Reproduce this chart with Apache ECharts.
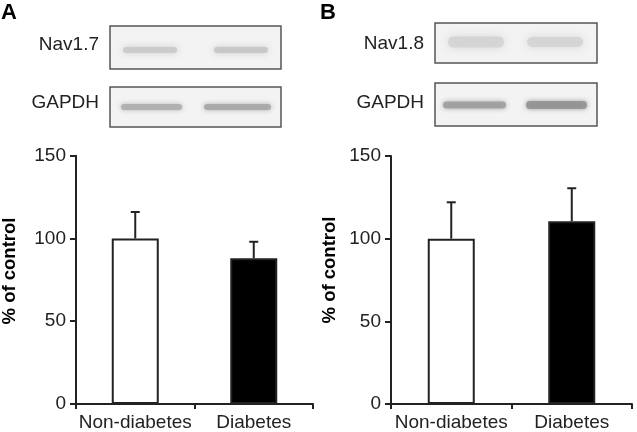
<!DOCTYPE html>
<html>
<head>
<meta charset="utf-8">
<script src="https://cdn.jsdelivr.net/npm/echarts@6/dist/echarts.min.js"></script>
<style>
html,body{margin:0;padding:0;background:#fff;}
#chart{width:637px;height:432px;}
</style>
</head>
<body>
<div id="chart"></div>
<script>
// ---- data ----
var categories = ['Non-diabetes', 'Diabetes'];
var panelAMeans = [100, 88];
var panelAErrors = [16, 10];
var panelBMeans = [100, 110.5];
var panelBErrors = [22, 20];
var yTicks = [0, 50, 100, 150];
var yTitle = '% of control';
var panelLetters = ['A', 'B'];
var blotLabelsA = ['Nav1.7', 'GAPDH'];
var blotLabelsB = ['Nav1.8', 'GAPDH'];
var barColors = ['#ffffff', '#000000'];

var FONT = "'Liberation Sans', Arial, Helvetica, sans-serif";
var INK = '#222';
var FS = 19;

var chart = echarts.init(document.getElementById('chart'), null, {renderer: 'canvas'});

function barData(means) {
  return means.map(function (v, i) {
    return {value: v, itemStyle: {color: barColors[i], borderColor: INK, borderWidth: 2}};
  });
}
function errData(means, errs) {
  return means.map(function (v, i) { return [i, v, v + errs[i]]; });
}
function errRender(params, api) {
  var base = api.coord([api.value(0), api.value(1)]);
  var top = api.coord([api.value(0), api.value(2)]);
  var hw = 4.5;
  return {
    type: 'group',
    children: [
      {type: 'line', shape: {x1: base[0], y1: base[1], x2: top[0], y2: top[1]}, style: {stroke: INK, lineWidth: 2}},
      {type: 'line', shape: {x1: top[0] - hw, y1: top[1], x2: top[0] + hw, y2: top[1]}, style: {stroke: INK, lineWidth: 2}}
    ]
  };
}

function xAxis(gi) {
  return {
    type: 'category', gridIndex: gi, data: categories,
    axisLine: {lineStyle: {color: INK, width: 2}},
    axisTick: {show: true, length: 5, inside: false, alignWithLabel: false, lineStyle: {color: INK, width: 2}},
    axisLabel: {color: INK, fontSize: FS, fontFamily: FONT, margin: 9, interval: 0, hideOverlap: false}
  };
}
function yAxis(gi) {
  return {
    type: 'value', gridIndex: gi, min: yTicks[0], max: yTicks[yTicks.length - 1], interval: 50,
    axisLine: {show: true, lineStyle: {color: INK, width: 2}},
    axisTick: {show: true, length: 6, lineStyle: {color: INK, width: 2}},
    splitLine: {show: false},
    axisLabel: {color: INK, fontSize: FS, fontFamily: FONT, margin: 10}
  };
}

// blot decoration helpers
function box(x, y, w, h) {
  return {type: 'rect', shape: {x: x, y: y, width: w, height: h},
    style: {fill: '#f3f3f3', stroke: '#555', lineWidth: 1.5}, z: 1};
}
function band(x, y, w, h, color, blur) {
  return {type: 'rect', shape: {x: x, y: y - h / 2, width: w, height: h, r: h / 2},
    style: {fill: color, shadowBlur: blur, shadowColor: color, opacity: 0.85}, z: 2};
}
function label(text, xr, yc) {
  return {type: 'text', x: xr, y: yc, z: 3,
    style: {text: text, font: FS + 'px ' + FONT, fill: INK, textAlign: 'right', textVerticalAlign: 'middle'}};
}
function ytitle(xc, yc) {
  return {type: 'text', x: xc, y: yc, rotation: Math.PI / 2, z: 3,
    style: {text: yTitle, font: 'bold 18.5px ' + FONT, fill: '#000', textAlign: 'center', textVerticalAlign: 'middle'}};
}
function letter(text, x, y) {
  return {type: 'text', x: x, y: y, z: 3,
    style: {text: text, font: 'bold 22px ' + FONT, fill: '#000', textAlign: 'left', textVerticalAlign: 'top'}};
}

var graphics = [
  letter(panelLetters[0], 1, 2),
  letter(panelLetters[1], 320, 2),
  // panel A blots
  box(110, 26, 171, 43),
  band(123, 50, 54, 6, '#c8c8c8', 6),
  band(214, 50, 54, 6, '#c4c4c4', 6),
  box(110, 87, 171, 40),
  band(121, 107, 61, 6, '#ababab', 5),
  band(204, 107, 67, 6, '#a4a4a4', 5),
  label(blotLabelsA[0], 99, 45),
  label(blotLabelsA[1], 99, 103),
  // panel B blots
  box(435, 23, 162, 40),
  band(448, 42, 56, 11, '#d2d2d2', 8),
  band(527, 42, 56, 10, '#d2d2d2', 8),
  box(435, 83, 162, 43),
  band(443, 105, 63, 7, '#9c9c9c', 5),
  band(526, 105, 61, 8, '#909090', 5),
  label(blotLabelsB[0], 424, 44),
  label(blotLabelsB[1], 424, 103),
  ytitle(10, 271),
  ytitle(330, 270)
];

var option = {
  backgroundColor: '#fff',
  animation: false,
  grid: [
    {left: 76, right: 324, top: 155.7, bottom: 27},
    {left: 391, right: 5, top: 156, bottom: 28}
  ],
  xAxis: [xAxis(0), xAxis(1)],
  yAxis: [yAxis(0), yAxis(1)],
  series: [
    {type: 'bar', xAxisIndex: 0, yAxisIndex: 0, barWidth: 47, data: barData(panelAMeans), z: 2},
    {type: 'custom', xAxisIndex: 0, yAxisIndex: 0, renderItem: errRender, data: errData(panelAMeans, panelAErrors), z: 3},
    {type: 'bar', xAxisIndex: 1, yAxisIndex: 1, barWidth: 47, data: barData(panelBMeans), z: 2},
    {type: 'custom', xAxisIndex: 1, yAxisIndex: 1, renderItem: errRender, data: errData(panelBMeans, panelBErrors), z: 3}
  ],
  graphic: graphics
};
chart.setOption(option);
</script>
</body>
</html>
